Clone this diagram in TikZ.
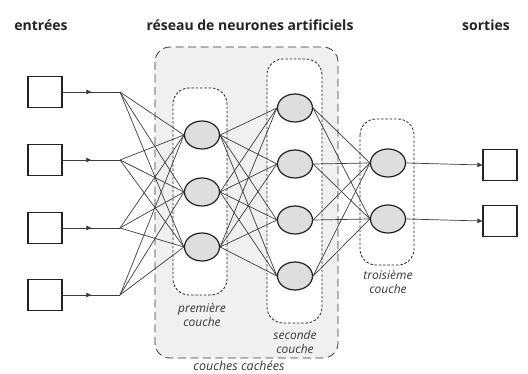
\documentclass[tikz,border=0pt]{standalone}
\usepackage{fontspec}
\setmainfont{Open Sans}
\definecolor{panel}{RGB}{240,240,240}
\definecolor{cell}{RGB}{222,222,222}
\definecolor{ink}{RGB}{35,35,35}
\definecolor{wire}{RGB}{60,60,60}
\definecolor{soft}{RGB}{55,55,55}
\usetikzlibrary{arrows.meta,shapes.geometric,decorations.markings}

\tikzset{
  inbox/.style={draw=ink,line width=1.2pt,minimum width=34pt,minimum height=31pt,inner sep=0pt},
  neuron/.style={ellipse,draw=ink,fill=cell,line width=1.2pt,minimum width=35pt,minimum height=28pt,inner sep=0pt},
  layerbox/.style={draw=ink,fill=white,dash pattern=on 2.5pt off 1.8pt,line width=0.8pt,rounded corners=16pt},
  link/.style={wire,line width=0.7pt},
  midarrow/.style={link,decoration={markings,mark=at position 0.5 with {\arrow{Triangle[length=5pt,width=4.5pt]}}},postaction=decorate},
  heading/.style={font=\bfseries\fontsize{14}{16}\selectfont,text=ink},
  caption/.style={font=\itshape\fontsize{12}{14}\selectfont,text=soft,align=center,inner sep=1pt}
}

\begin{document}
\begin{tikzpicture}[x=1pt,y=-1pt]
  \useasboundingbox (0,0) rectangle (528,374);

  % titres
  \node[heading] (tin)  at (41,25)  {entrées};
  \node[heading] (tnet) at (250,25) {réseau de neurones artificiels};
  \node[heading] (tout) at (486,25) {sorties};

  % couches cachees
  \draw[fill=panel,draw=soft,line width=0.8pt,dash pattern=on 8pt off 4.5pt,rounded corners=15pt]
    (155,47) rectangle (338,358);
  \draw[layerbox] (173,88) rectangle (227,295);
  \draw[layerbox] (267,59) rectangle (322,323);
  \draw[layerbox] (360,119) rectangle (414,265);

  % neurones
  \foreach \i/\y in {1/92,2/160,3/228,4/295} {
    \node[inbox] (in\i) at (45,\y) {};
    \coordinate (f\i) at (120,\y);
  }
  \foreach \i/\y in {1/135,2/192,3/247}
    \node[neuron] (a\i) at (202,\y) {};
  \foreach \i/\y in {1/108,2/164,3/220,4/276}
    \node[neuron] (b\i) at (295,\y) {};
  \foreach \i/\y in {1/163,2/219}
    \node[neuron] (c\i) at (388,\y) {};
  \foreach \i/\y in {1/165,2/221}
    \node[inbox] (out\i) at (500,\y) {};

  % connexions
  \foreach \i in {1,...,4} {
    \draw[midarrow] (in\i.east) -- (f\i);
    \foreach \j in {1,2,3}
      \draw[link] (f\i) -- (a\j.west);
  }
  \foreach \i in {1,2,3}
    \foreach \j in {1,...,4}
      \draw[link] (a\i.east) -- (b\j.west);
  \foreach \i in {1,...,4}
    \foreach \j in {1,2}
      \draw[link] (b\i.east) -- (c\j.west);
  \foreach \i in {1,2}
    \draw[link,-{Triangle[length=5pt,width=4.5pt]}] (c\i.east) -- (out\i.west);

  % legendes
  \node[caption] (l1) at (202,315) {première\\couche};
  \node[caption] (l2) at (295,342) {seconde\\couche};
  \node[caption] (l3) at (388,282) {troisième\\couche};
  \node[caption,font=\itshape\fontsize{12.5}{14}\selectfont] (lh) at (239,366) {couches cachées};
\end{tikzpicture}
\end{document}
